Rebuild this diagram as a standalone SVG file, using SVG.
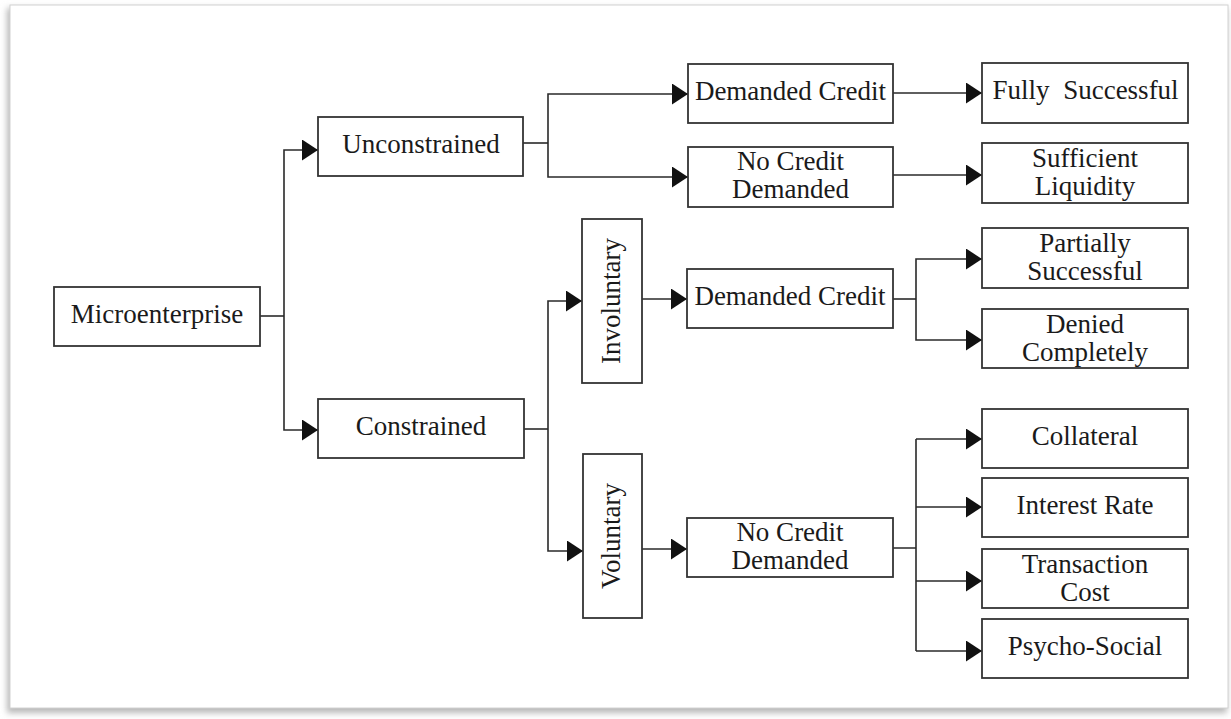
<svg xmlns="http://www.w3.org/2000/svg" width="1231" height="719" viewBox="0 0 1231 719">
  <style>
    .box { fill: #ffffff; stroke: #333333; stroke-width: 1.8; }
    .lbl { font-size: 27px; fill: #1a1a1a; text-anchor: middle; }
    .wire { fill: none; stroke: #2a2a2a; stroke-width: 1.6; }
    .arrow { marker-end: url(#head); }
  </style>
  <defs>
    <marker id="head" markerUnits="userSpaceOnUse" markerWidth="17" markerHeight="22" refX="16" refY="10.5" orient="auto">
      <path d="M0,0 L16,10.5 L0,21 Z" fill="#111111"/>
    </marker>
    <filter id="soft" x="-5%" y="-5%" width="110%" height="110%">
      <feGaussianBlur stdDeviation="3"/>
    </filter>
  </defs>

  <!-- page frame with soft shadow -->
  <rect x="0" y="0" width="1231" height="719" fill="#ffffff"/>
  <rect x="7" y="8" width="1220" height="705" fill="#b8b8b8" filter="url(#soft)"/>
  <rect x="10" y="5" width="1218" height="703" fill="#ffffff" stroke="#d2d2d2" stroke-width="1"/>

  <!-- connectors -->
  <g id="connectors">
    <path class="wire" d="M260,316 H284"/>
    <path class="wire arrow" d="M284,316 V150 H318"/>
    <path class="wire arrow" d="M284,316 V430 H318"/>

    <path class="wire" d="M523,143 H548"/>
    <path class="wire arrow" d="M548,143 V94 H688"/>
    <path class="wire arrow" d="M548,143 V177 H688"/>

    <path class="wire arrow" d="M893,93 H982"/>
    <path class="wire arrow" d="M893,175 H982"/>

    <path class="wire" d="M524,429 H548"/>
    <path class="wire arrow" d="M548,429 V301 H582"/>
    <path class="wire arrow" d="M548,429 V551 H583"/>

    <path class="wire arrow" d="M642,299 H687"/>
    <path class="wire" d="M893,299 H916"/>
    <path class="wire arrow" d="M916,299 V259 H982"/>
    <path class="wire arrow" d="M916,299 V340 H982"/>

    <path class="wire arrow" d="M642,549 H687"/>
    <path class="wire" d="M893,548 H916 M916,439 V651"/>
    <path class="wire arrow" d="M916,439 H982"/>
    <path class="wire arrow" d="M916,507 H982"/>
    <path class="wire arrow" d="M916,581 H982"/>
    <path class="wire arrow" d="M916,651 H982"/>
  </g>

  <!-- nodes -->
  <g font-family="'Liberation Serif', 'Times New Roman', Times, serif">
  <g id="microenterprise">
    <rect class="box" x="54" y="287" width="206" height="59"/>
    <text class="lbl" x="157" y="322.5">Microenterprise</text>
  </g>
  <g id="unconstrained">
    <rect class="box" x="318" y="117" width="205" height="59"/>
    <text class="lbl" x="421" y="152.5">Unconstrained</text>
  </g>
  <g id="constrained">
    <rect class="box" x="318" y="399" width="206" height="59"/>
    <text class="lbl" x="421" y="434.5">Constrained</text>
  </g>
  <g id="involuntary">
    <rect class="box" x="582" y="219" width="60" height="164"/>
    <text class="lbl" transform="translate(620,301) rotate(-90)">Involuntary</text>
  </g>
  <g id="voluntary">
    <rect class="box" x="583" y="454" width="59" height="164"/>
    <text class="lbl" transform="translate(620,536) rotate(-90)">Voluntary</text>
  </g>
  <g id="demanded-credit-unconstrained">
    <rect class="box" x="688" y="64" width="205" height="59"/>
    <text class="lbl" x="790.5" y="99.5">Demanded Credit</text>
  </g>
  <g id="no-credit-unconstrained">
    <rect class="box" x="688" y="147" width="205" height="60"/>
    <text class="lbl" x="790.5" y="170">No Credit</text>
    <text class="lbl" x="790.5" y="197.5">Demanded</text>
  </g>
  <g id="demanded-credit-involuntary">
    <rect class="box" x="687" y="269" width="206" height="59"/>
    <text class="lbl" x="790" y="304.5">Demanded Credit</text>
  </g>
  <g id="no-credit-voluntary">
    <rect class="box" x="687" y="518" width="206" height="59"/>
    <text class="lbl" x="790" y="541">No Credit</text>
    <text class="lbl" x="790" y="568.5">Demanded</text>
  </g>
  <g id="fully-successful">
    <rect class="box" x="982" y="63" width="206" height="60"/>
    <text class="lbl" x="1085.5" y="99" word-spacing="7">Fully Successful</text>
  </g>
  <g id="sufficient-liquidity">
    <rect class="box" x="982" y="143" width="206" height="60"/>
    <text class="lbl" x="1085" y="166.5">Sufficient</text>
    <text class="lbl" x="1085" y="194.5">Liquidity</text>
  </g>
  <g id="partially-successful">
    <rect class="box" x="982" y="228" width="206" height="60"/>
    <text class="lbl" x="1085" y="252">Partially</text>
    <text class="lbl" x="1085" y="280">Successful</text>
  </g>
  <g id="denied-completely">
    <rect class="box" x="982" y="309" width="206" height="59"/>
    <text class="lbl" x="1085" y="332.5">Denied</text>
    <text class="lbl" x="1085" y="360.5">Completely</text>
  </g>
  <g id="collateral">
    <rect class="box" x="982" y="409" width="206" height="59"/>
    <text class="lbl" x="1085" y="444.5">Collateral</text>
  </g>
  <g id="interest-rate">
    <rect class="box" x="982" y="478" width="206" height="59"/>
    <text class="lbl" x="1085" y="513.5">Interest Rate</text>
  </g>
  <g id="transaction-cost">
    <rect class="box" x="982" y="549" width="206" height="59"/>
    <text class="lbl" x="1085" y="572.5">Transaction</text>
    <text class="lbl" x="1085" y="600.5">Cost</text>
  </g>
  <g id="psycho-social">
    <rect class="box" x="982" y="619" width="206" height="59"/>
    <text class="lbl" x="1085" y="654.5">Psycho-Social</text>
  </g>
  </g>
</svg>
